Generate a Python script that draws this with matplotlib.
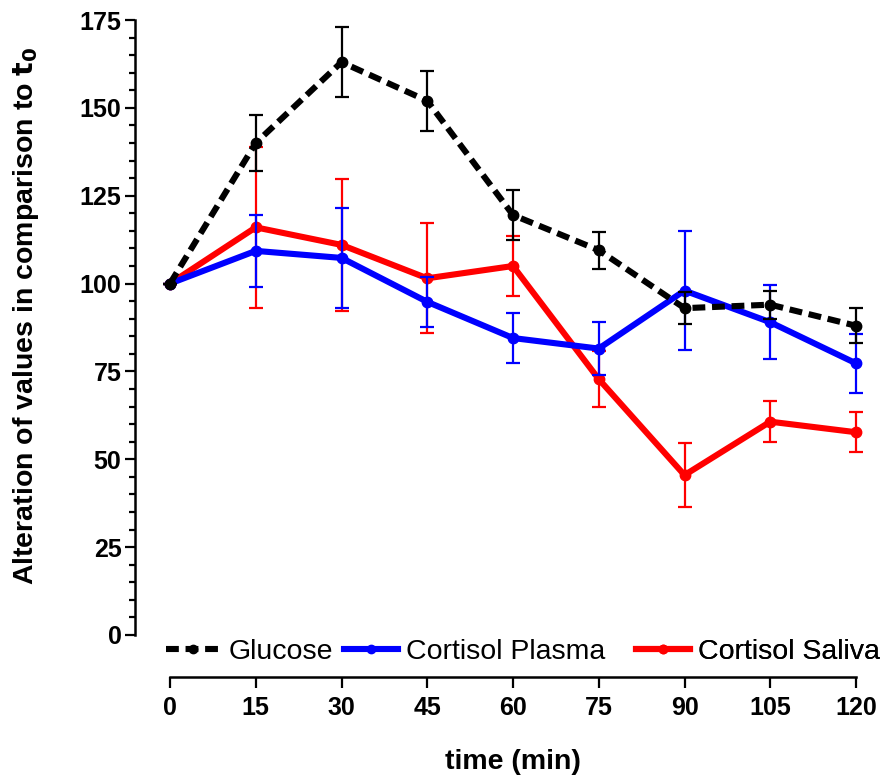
import numpy as np
import matplotlib
matplotlib.use("Agg")
import matplotlib.pyplot as plt
from matplotlib.ticker import MultipleLocator

plt.rcParams['font.family'] = ['Liberation Sans', 'DejaVu Sans']

# sampling times (min)
timePoints = [0, 15, 30, 45, 60, 75, 90, 105, 120]

# values relative to t0 (%), mean and SEM
glucoseMean = [100, 140, 163, 152, 119.5, 109.5, 93, 94, 88]
glucoseSem = [0, 8, 10, 8.5, 7, 5.3, 4.6, 4, 5]

plasmaMean = [100, 109.3, 107.3, 94.8, 84.5, 81.5, 98, 89, 77.3]
plasmaSem = [0, 10.3, 14.3, 7.2, 7.2, 7.5, 17, 10.5, 8.4]

salivaMean = [100, 116, 111, 101.5, 105, 72.8, 45.5, 60.7, 57.7]
salivaSem = [0, 23, 18.7, 15.7, 8.4, 8, 9, 5.8, 5.7]

xTicks = [0, 15, 30, 45, 60, 75, 90, 105, 120]
yTicks = [0, 25, 50, 75, 100, 125, 150, 175]


def drawSeries(ax, means, sems, color, label, linestyle, zorder):
    ax.errorbar(timePoints, means, yerr=sems, color=color, linestyle='none',
                elinewidth=1.6, capsize=5, capthick=1.6, zorder=zorder, clip_on=False)
    line, = ax.plot(timePoints, means, color=color, linestyle=linestyle, lw=4.4,
                    marker='o', markersize=7.5, label=label, zorder=zorder + 0.5,
                    clip_on=False)
    return line


fig = plt.figure(figsize=(8.85, 7.77), dpi=100)
ax = fig.add_axes([170 / 885, 142 / 777, 686 / 885, 615 / 777])

salivaLine = drawSeries(ax, salivaMean, salivaSem, '#ff0000', 'Cortisol Saliva', '-', 2)
plasmaLine = drawSeries(ax, plasmaMean, plasmaSem, '#0000ff', 'Cortisol Plasma', '-', 3)
glucoseLine = drawSeries(ax, glucoseMean, glucoseSem, 'black', 'Glucose', (0, (2.1, 1.1)), 4)

ax.set_xlim(0, 120)
ax.set_ylim(0, 175)

# prism-like detached axes
ax.spines['top'].set_visible(False)
ax.spines['right'].set_visible(False)
ax.spines['left'].set_position(('outward', 25))
ax.spines['bottom'].set_position(('outward', 30))
ax.spines['left'].set_bounds(0, 175)
ax.spines['bottom'].set_bounds(0, 120)
for side in ['left', 'bottom']:
    ax.spines[side].set_linewidth(1.8)

ax.set_xticks(xTicks)
ax.set_yticks(yTicks)
ax.yaxis.set_minor_locator(MultipleLocator(5))
ax.tick_params(axis='y', which='major', length=7, width=1.6, pad=3)
ax.tick_params(axis='y', which='minor', length=4.5, width=1.6)
ax.tick_params(axis='x', which='major', length=8, width=1.6, pad=6)
for lbl in ax.get_xticklabels() + ax.get_yticklabels():
    lbl.set_fontsize(18)
    lbl.set_fontweight('bold')

ax.set_xlabel('time (min)', fontsize=20.5, fontweight='bold')
ax.xaxis.set_label_coords(0.5, -0.185)
ax.set_ylabel(r'Alteration of values in comparison to $\mathbf{t_0}$',
              fontsize=20.5, fontweight='bold')
ax.yaxis.set_label_coords(-0.188, 0.52)

# one legend per series so each entry sits where it should along the row
legendSpots = [(glucoseLine, -0.006), (plasmaLine, 0.253), (salivaLine, 0.679)]
for handle, xAnchor in legendSpots:
    leg = ax.legend(handles=[handle], loc='center left',
                    bbox_to_anchor=(xAnchor, -0.028), frameon=False, fontsize=20.5,
                    handlelength=1.9, handletextpad=0.3, borderpad=0,
                    borderaxespad=0, markerscale=0.8)
    ax.add_artist(leg)

fig.savefig('out.png', dpi=100)
